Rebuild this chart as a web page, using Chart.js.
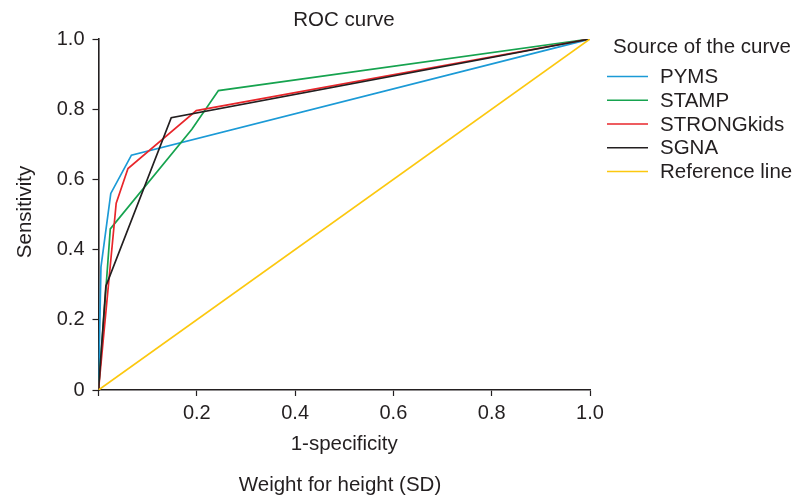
<!DOCTYPE html>
<html>
<head>
<meta charset="utf-8">
<script src="https://cdn.jsdelivr.net/npm/chart.js@4.4.1/dist/chart.umd.min.js"></script>
<style>
  html, body { margin: 0; padding: 0; background: #fff; }
  #wrap { width: 809px; height: 499px; }
</style>
</head>
<body>
<div id="wrap"><canvas id="roc" width="809" height="499"></canvas></div>
<script>
// curve points (1-specificity, sensitivity)
const pymsX = [0, 0.005, 0.025, 0.067, 1];
const pymsY = [0, 0.35, 0.56, 0.669, 1];
const stampX = [0, 0.024, 0.19, 0.244, 1];
const stampY = [0, 0.459, 0.743, 0.853, 1];
const strongX = [0, 0.036, 0.06, 0.199, 1];
const strongY = [0, 0.532, 0.631, 0.796, 1];
const sgnaX = [0, 0.015, 0.148, 1];
const sgnaY = [0, 0.296, 0.776, 1];
const refX = [0, 1];
const refY = [0, 1];

const seriesNames = ['PYMS', 'STAMP', 'STRONGkids', 'SGNA', 'Reference line'];
const seriesColors = ['#1b9ad6', '#16a34f', '#e8262b', '#231f20', '#fcc80f'];
const xTicks = [0, 0.2, 0.4, 0.6, 0.8, 1.0];
const yTicks = [0, 0.2, 0.4, 0.6, 0.8, 1.0];

const FONT = 'Liberation Sans, Arial, sans-serif';
const INK = '#231f20';

function pts(xs, ys) {
  return xs.map((x, i) => ({ x: x, y: ys[i] }));
}

const allX = [pymsX, stampX, strongX, sgnaX, refX];
const allY = [pymsY, stampY, strongY, sgnaY, refY];

const datasets = seriesNames.map((name, i) => ({
  label: name,
  data: pts(allX[i], allY[i]),
  borderColor: seriesColors[i],
  backgroundColor: seriesColors[i],
  borderWidth: 1.7,
  pointRadius: 0,
  showLine: true,
  tension: 0,
  order: 4 - i
}));

// extra text: title, axis titles, legend
const extraText = {
  id: 'extraText',
  afterDraw(chart) {
    const ctx = chart.ctx;
    const area = chart.chartArea;
    ctx.save();
    ctx.fillStyle = INK;
    ctx.font = '20.5px ' + FONT;
    ctx.textAlign = 'center';
    ctx.textBaseline = 'middle';
    ctx.fillText('ROC curve', 344, 20);
    ctx.fillText('1-specificity', (area.left + area.right) / 2, 444);
    ctx.fillText('Weight for height (SD)', 340, 485);

    ctx.save();
    ctx.translate(25, 212);
    ctx.rotate(-Math.PI / 2);
    ctx.fillText('Sensitivity', 0, 0);
    ctx.restore();

    // legend
    ctx.fillText('Source of the curve', 702, 47);
    ctx.textAlign = 'left';
    seriesNames.forEach((name, i) => {
      const y = 76.5 + i * 23.75;
      ctx.strokeStyle = seriesColors[i];
      ctx.lineWidth = 1.7;
      ctx.beginPath();
      ctx.moveTo(607, y);
      ctx.lineTo(648, y);
      ctx.stroke();
      ctx.fillStyle = INK;
      ctx.fillText(name, 660, y + 1);
    });
    ctx.restore();
  }
};

new Chart(document.getElementById('roc'), {
  type: 'scatter',
  data: { datasets: datasets },
  options: {
    responsive: false,
    animation: false,
    layout: { padding: { top: 39, right: 219, left: 0, bottom: 0 } },
    plugins: {
      legend: { display: false },
      title: { display: false },
      tooltip: { enabled: false }
    },
    scales: {
      x: {
        type: 'linear',
        min: 0,
        max: 1,
        afterFit: s => { s.height = 109; },
        afterBuildTicks: s => { s.ticks = xTicks.map(v => ({ value: v })); },
        ticks: {
          color: INK,
          font: { family: FONT, size: 20 },
          padding: 5,
          maxRotation: 0,
          callback: v => (v === 0 ? '' : v.toFixed(1))
        },
        grid: { drawOnChartArea: false, drawTicks: true, tickLength: 6, tickColor: INK, tickWidth: 1.2 },
        border: { color: INK, width: 1.6 }
      },
      y: {
        type: 'linear',
        min: 0,
        max: 1,
        afterFit: s => { s.width = 98.5; },
        afterBuildTicks: s => { s.ticks = yTicks.map(v => ({ value: v })); },
        ticks: {
          color: INK,
          font: { family: FONT, size: 20 },
          padding: 8,
          callback: v => (v === 0 ? '0' : v.toFixed(1))
        },
        grid: { drawOnChartArea: false, drawTicks: true, tickLength: 6, tickColor: INK, tickWidth: 1.2 },
        border: { color: INK, width: 1.6 }
      }
    }
  },
  plugins: [extraText]
});
</script>
</body>
</html>
